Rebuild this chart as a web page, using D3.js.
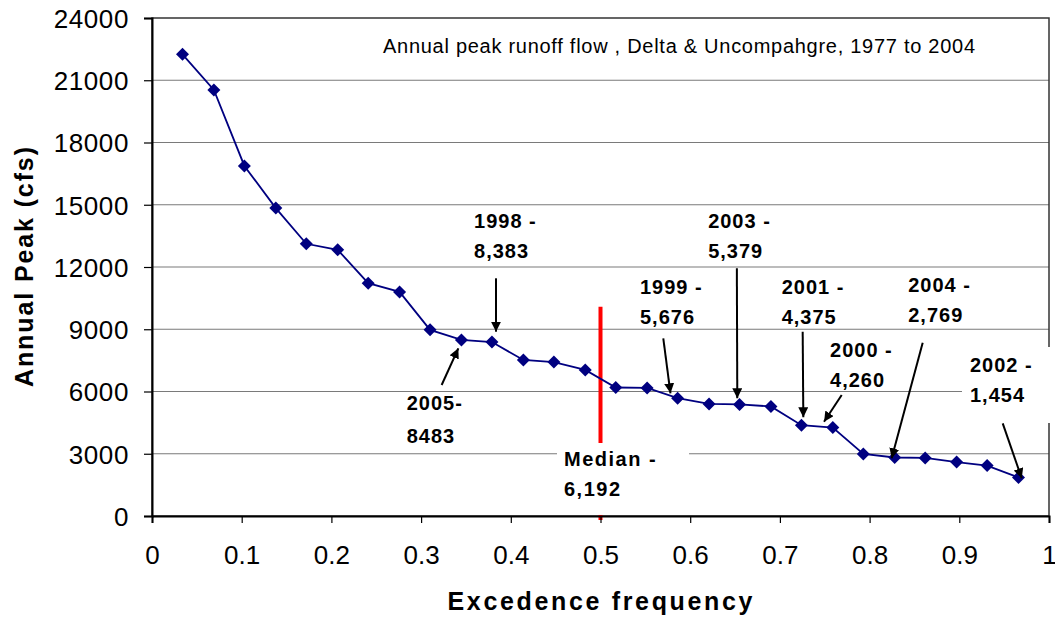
<!DOCTYPE html>
<html>
<head>
<meta charset="utf-8">
<script src="https://cdn.jsdelivr.net/npm/d3@7"></script>
<style>
html,body{margin:0;padding:0;background:#fff;}
svg{display:block;}
</style>
</head>
<body>
<svg id="chart" width="1055" height="622"></svg>
<script>
// ---- data ----
const freq = [0.034,0.069,0.103,0.138,0.172,0.207,0.241,0.276,0.310,0.345,0.379,0.414,0.448,0.483,
              0.517,0.552,0.586,0.621,0.655,0.690,0.724,0.759,0.793,0.828,0.862,0.897,0.931,0.966];
const peak = [22250,20530,16870,14840,13120,12830,11220,10800,8970,8483,8383,7520,7420,7040,
              6192,6170,5676,5400,5379,5280,4375,4260,2990,2820,2800,2600,2430,1860];
const yTicks = [0,3000,6000,9000,12000,15000,18000,21000,24000];
const xTicks = [0,0.1,0.2,0.3,0.4,0.5,0.6,0.7,0.8,0.9,1];
const xTickLabels = ["0","0.1","0.2","0.3","0.4","0.5","0.6","0.7","0.8","0.9","1"];
const medianFreq = 0.5;
const medianLabel = ["Median -","6,192"];
const chartTitle = "Annual peak runoff flow , Delta & Uncompahgre, 1977 to 2004";
const xTitle = "Excedence frequency";
const yTitle = "Annual Peak (cfs)";
const annLabels = [
  ["1998 -","8,383"],["2005-","8483"],["1999 -","5,676"],["2003 -","5,379"],
  ["2001 -","4,375"],["2000 -","4,260"],["2004 -","2,769"],["2002 -","1,454"]
];

// ---- layout (data units) ----
const annLayout = [
  {tx:0.359, ty:13865, ax1:0.3835, ay1:11455, ax2:0.3835, ay2:8882},
  {tx:0.284, ty:5108,  ax1:0.3229, ay1:6313,  ax2:0.3415, ay2:8082, lh:33},
  {tx:0.544, ty:10684, ax1:0.570,  ay1:8564,  ax2:0.578,  ay2:5913},
  {tx:0.620, ty:13865, ax1:0.652,  ay1:11937, ax2:0.6525, ay2:5672},
  {tx:0.702, ty:10684, ax1:0.7254, ay1:8882,  ax2:0.7261, ay2:4757},
  {tx:0.7559,ty:7677,  ax1:0.7689, ay1:5831,  ax2:0.7492, ay2:4545},
  {tx:0.8431,ty:10810, ax1:0.8592, ay1:8352,  ax2:0.8246, ay2:2781},
  {tx:0.9119,ty:6954,  ax1:0.9484, ay1:4467,  ax2:0.9696, ay2:1817}
];

const W=1055,H=622;
const m={left:152,right:1049,top:18,bottom:516};
const x=d3.scaleLinear().domain([0,1]).range([m.left,m.right]);
const y=d3.scaleLinear().domain([0,24000]).range([m.bottom,m.top]);
const svg=d3.select("#chart");
const FONT="'Liberation Sans', Arial, Helvetica, sans-serif";

// defs
svg.append("defs").append("marker")
  .attr("id","arrow").attr("viewBox","0 0 10 10").attr("refX",10).attr("refY",5)
  .attr("markerWidth",5).attr("markerHeight",5).attr("markerUnits","strokeWidth")
  .attr("orient","auto")
  .append("path").attr("d","M0,0 L10,5 L0,10 z").attr("fill","#000");

// gridlines
svg.append("g").selectAll("line").data(yTicks.filter(d=>d>0&&d<24000)).join("line")
  .attr("x1",m.left).attr("x2",m.right).attr("y1",d=>y(d)).attr("y2",d=>y(d))
  .attr("stroke","#7a7a7a").attr("stroke-width",1.2);

// plot border
svg.append("rect").attr("x",m.left).attr("y",m.top).attr("width",m.right-m.left).attr("height",m.bottom-m.top)
  .attr("fill","none").attr("stroke","#333").attr("stroke-width",1.5);

// median line
svg.append("line").attr("x1",x(medianFreq)).attr("x2",x(medianFreq))
  .attr("y1",y(10087)).attr("y2",m.bottom+4)
  .attr("stroke","#ff0000").attr("stroke-width",4);

// white label boxes
const boxes=[{x0:0.4515,x1:0.5987,y0:3518,y1:50},{x0:0.903,x1:1.01,y0:8145,y1:4482}];
svg.append("g").selectAll("rect").data(boxes).join("rect")
  .attr("x",d=>x(d.x0)).attr("y",d=>y(d.y0)).attr("width",d=>x(d.x1)-x(d.x0)).attr("height",d=>y(d.y1)-y(d.y0))
  .attr("fill","#fff");

// axes
const yAxis=d3.axisLeft(y).tickValues(yTicks).tickSize(8).tickFormat(d3.format("d"));
const gy=svg.append("g").attr("transform",`translate(${m.left},0)`).call(yAxis);
gy.select(".domain").attr("stroke","#000").attr("stroke-width",2);
gy.selectAll(".tick line").attr("stroke","#000").attr("stroke-width",1.2);
gy.selectAll(".tick text").attr("x",-23).attr("dy","0.36em")
  .attr("font-family",FONT).attr("font-size",26).attr("letter-spacing",0.6).attr("fill","#000");

const xAxis=d3.axisBottom(x).tickValues(xTicks).tickSize(7).tickFormat((d,i)=>xTickLabels[i]);
const gx=svg.append("g").attr("transform",`translate(0,${m.bottom})`).call(xAxis);
gx.select(".domain").attr("stroke","#000").attr("stroke-width",2);
gx.selectAll(".tick line").attr("stroke","#000").attr("stroke-width",1.2);
gx.selectAll(".tick text").attr("y",30).attr("dy","0.71em")
  .attr("font-family",FONT).attr("font-size",26).attr("fill","#000");

// series line
svg.append("path").datum(freq.map((f,i)=>[f,peak[i]]))
  .attr("d",d3.line().x(d=>x(d[0])).y(d=>y(d[1])))
  .attr("fill","none").attr("stroke","#000080").attr("stroke-width",1.8);

// diamonds
svg.append("g").selectAll("path").data(freq.map((f,i)=>[f,peak[i]])).join("path")
  .attr("transform",d=>`translate(${x(d[0])},${y(d[1])})`)
  .attr("d","M0,-6.5 L6.5,0 L0,6.5 L-6.5,0 Z").attr("fill","#000080");

// arrows
svg.append("g").selectAll("line").data(annLayout).join("line")
  .attr("x1",d=>x(d.ax1)).attr("y1",d=>y(d.ay1)).attr("x2",d=>x(d.ax2)).attr("y2",d=>y(d.ay2))
  .attr("stroke","#000").attr("stroke-width",2).attr("marker-end","url(#arrow)");

// annotation labels
const ag=svg.append("g");
annLabels.forEach((lines,i)=>{
  const L=annLayout[i];
  const t=ag.append("text").attr("font-family",FONT).attr("font-size",20).attr("font-weight","bold")
    .attr("letter-spacing",1).attr("fill","#000");
  lines.forEach((s,j)=>t.append("tspan").attr("x",x(L.tx)).attr("y",y(L.ty)+j*(L.lh||30)).text(s));
});
// median label
const mt=svg.append("text").attr("font-family",FONT).attr("font-size",20).attr("font-weight","bold")
  .attr("letter-spacing",1.5).attr("fill","#000");
medianLabel.forEach((s,j)=>mt.append("tspan").attr("x",x(0.4593)).attr("y",y(2424)+j*30).text(s));

// chart title
svg.append("text").attr("x",383).attr("y",53)
  .attr("font-family",FONT)
  .attr("font-size",20).attr("textLength",592).attr("lengthAdjust","spacing")
  .attr("fill","#000").text(chartTitle);

// axis titles
svg.append("text").attr("x",600).attr("y",610).attr("text-anchor","middle")
  .attr("font-family",FONT).attr("font-size",25).attr("font-weight","bold")
  .attr("textLength",305).attr("lengthAdjust","spacing").attr("fill","#000").text(xTitle);
svg.append("text").attr("transform","translate(33,267) rotate(-90)").attr("text-anchor","middle")
  .attr("font-family",FONT).attr("font-size",25).attr("font-weight","bold")
  .attr("textLength",240).attr("lengthAdjust","spacing").attr("fill","#000").text(yTitle);
</script>
</body>
</html>
